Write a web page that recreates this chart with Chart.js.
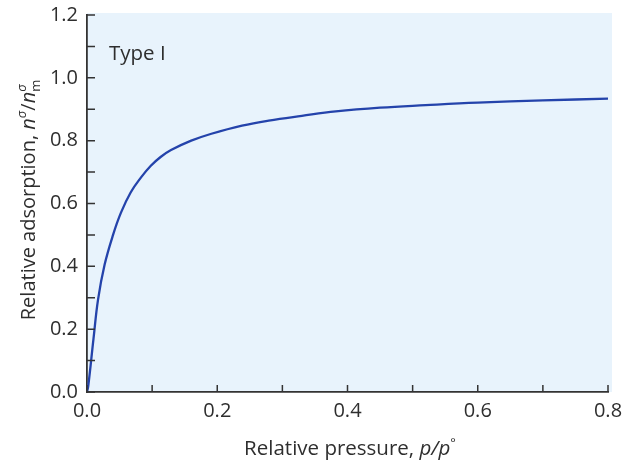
<!DOCTYPE html>
<html>
<head>
<meta charset="utf-8">
<script src="https://cdn.jsdelivr.net/npm/chart.js@4"></script>
<style>
  html, body { margin: 0; padding: 0; background: #ffffff; }
  #wrap { width: 623px; height: 467px; position: relative; }
</style>
</head>
<body>
<div id="wrap"><canvas id="grafico"></canvas></div>
<script>
// values
const pressao = [0, 0.002, 0.01, 0.017, 0.027, 0.04, 0.052, 0.067, 0.083, 0.098, 0.113, 0.129, 0.16, 0.191, 0.238, 0.279, 0.33, 0.382, 0.45, 0.52, 0.6, 0.7, 0.8];
const adsorcao = [0, 0.02, 0.17, 0.295, 0.405, 0.50, 0.57, 0.635, 0.683, 0.72, 0.748, 0.77, 0.80, 0.822, 0.848, 0.864, 0.879, 0.893, 0.905, 0.913, 0.921, 0.928, 0.934];
const xTickLabels = ['0.0', '0.2', '0.4', '0.6', '0.8'];
const yTickLabels = ['0.0', '0.2', '0.4', '0.6', '0.8', '1.0', '1.2'];
const rotulo = 'Type I';

const FONTE = "'Open Sans', sans-serif";
const COR_TEXTO = '#2e2e2e';
const COR_EIXO = '#333333';

// fundo azul claro da area do grafico
const fundoPlugin = {
    id: 'fundo',
    beforeDraw(chart) {
        const { ctx, chartArea: a } = chart;
        ctx.save();
        ctx.fillStyle = '#e8f3fc';
        ctx.fillRect(a.left, a.top - 2, a.right - a.left + 4, a.bottom - a.top + 2);
        ctx.restore();
    }
};

// ticks voltados para dentro + textos com italico/indices
const extrasPlugin = {
    id: 'extras',
    afterDraw(chart) {
        const { ctx, chartArea: a } = chart;
        const xs = chart.scales.x, ys = chart.scales.y;
        ctx.save();
        ctx.strokeStyle = COR_EIXO;
        ctx.lineWidth = 1.5;
        ctx.beginPath();
        xs.ticks.forEach(t => {
            const px = xs.getPixelForValue(t.value);
            ctx.moveTo(px, a.bottom);
            ctx.lineTo(px, a.bottom - 7);
        });
        ys.ticks.forEach(t => {
            const py = ys.getPixelForValue(t.value);
            ctx.moveTo(a.left, py);
            ctx.lineTo(a.left + 8, py);
        });
        ctx.stroke();

        // rotulo "Type I"
        ctx.fillStyle = COR_TEXTO;
        ctx.font = '20.5px ' + FONTE;
        ctx.textBaseline = 'alphabetic';
        ctx.textAlign = 'left';
        ctx.fillText(rotulo, a.left + 22, 60);

        // titulo do eixo x
        const partesX = [
            { t: 'Relative pressure, ', f: '20.5px ' + FONTE, dy: 0 },
            { t: 'p/p', f: 'italic 20.5px ' + FONTE, dy: 0 },
            { t: '°', f: '13px ' + FONTE, dy: -8 }
        ];
        desenhaPartes(ctx, partesX, 350, 455);

        // titulo do eixo y (rotacionado)
        ctx.save();
        ctx.translate(35, 200);
        ctx.rotate(-Math.PI / 2);
        const partesY = [
            { t: 'Relative adsorption, ', f: '20px ' + FONTE, dy: 0 },
            { t: 'n', f: 'italic 20px ' + FONTE, dy: 0 },
            { t: 'σ', f: 'italic 13px ' + FONTE, dy: -9 },
            { t: '/', f: '20px ' + FONTE, dy: 0 },
            { t: 'n', f: 'italic 20px ' + FONTE, dy: 0 },
            { t: 'σ', f: 'italic 13px ' + FONTE, dy: -9, semAvanco: true },
            { t: 'm', f: '13px ' + FONTE, dy: 5 }
        ];
        desenhaPartes(ctx, partesY, 0, 0);
        ctx.restore();
        ctx.restore();
    }
};

function desenhaPartes(ctx, partes, cx, base) {
    let total = 0;
    partes.forEach(p => {
        ctx.font = p.f;
        p.w = ctx.measureText(p.t).width;
        if (!p.semAvanco) total += p.w;
    });
    let x = cx - total / 2;
    ctx.textAlign = 'left';
    ctx.textBaseline = 'alphabetic';
    partes.forEach(p => {
        ctx.font = p.f;
        ctx.fillText(p.t, x, base + p.dy);
        if (!p.semAvanco) x += p.w;
    });
}

const ctx = document.getElementById('grafico').getContext('2d');
new Chart(ctx, {
    type: 'line',
    data: {
        datasets: [{
            label: 'Type I',
            data: pressao.map((p, i) => ({ x: p, y: adsorcao[i] })),
            borderColor: '#2443ab',
            borderWidth: 2.3,
            pointRadius: 0,
            tension: 0.4,
            fill: false
        }]
    },
    options: {
        responsive: true,
        maintainAspectRatio: false,
        animation: false,
        layout: { padding: { top: 15, right: 15, left: 0, bottom: 0 } },
        plugins: {
            legend: { display: false },
            tooltip: { enabled: false }
        },
        scales: {
            x: {
                type: 'linear',
                min: 0,
                max: 0.8,
                afterFit(s) { s.height = 75; s.paddingLeft = 0; s.paddingRight = 0; },
                border: { display: true, color: COR_EIXO, width: 1.8 },
                grid: { display: true, drawOnChartArea: false, drawTicks: false },
                ticks: {
                    stepSize: 0.1,
                    autoSkip: false,
                    maxRotation: 0,
                    padding: 7,
                    color: COR_TEXTO,
                    font: { family: FONTE, size: 20 },
                    callback: (v, i) => (i % 2 === 0 ? xTickLabels[i / 2] : '')
                }
            },
            y: {
                min: 0,
                max: 1.2,
                afterFit(s) { s.width = 87; s.paddingTop = 0; s.paddingBottom = 0; },
                border: { display: true, color: COR_EIXO, width: 1.8 },
                grid: { display: true, drawOnChartArea: false, drawTicks: false },
                ticks: {
                    stepSize: 0.1,
                    autoSkip: false,
                    padding: 9,
                    color: COR_TEXTO,
                    font: { family: FONTE, size: 20 },
                    callback: (v, i) => (i % 2 === 0 ? yTickLabels[i / 2] : '')
                }
            }
        }
    },
    plugins: [fundoPlugin, extrasPlugin]
});
</script>
</body>
</html>
